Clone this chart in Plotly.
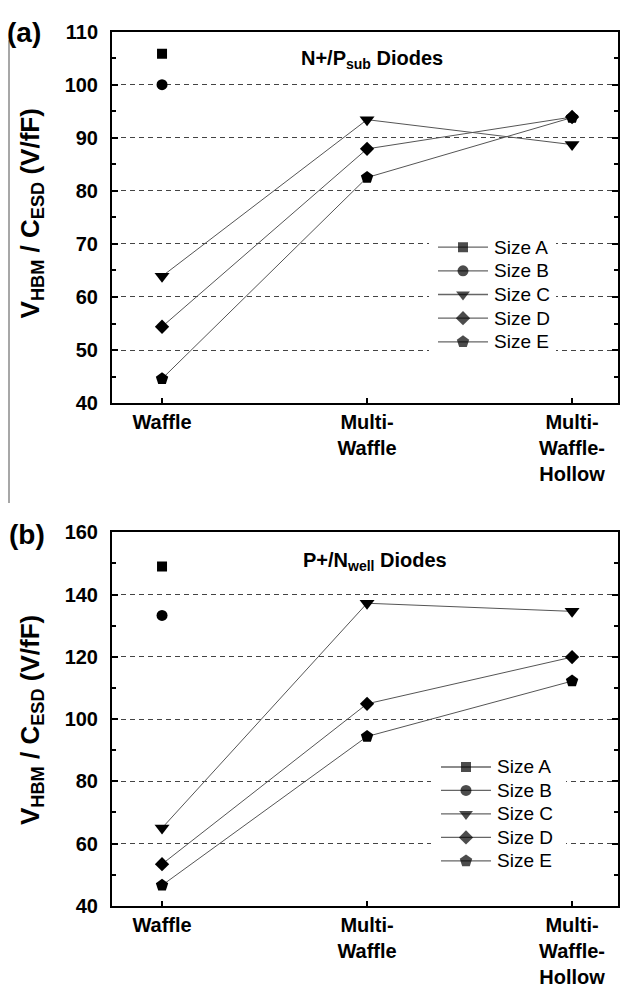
import plotly.graph_objects as go

# Categories (x positions are category indices)
categories = ["Waffle", "Multi-<br>Waffle", "Multi-<br>Waffle-<br>Hollow"]
x_pos = [0, 1, 2]
series_names = ["Size A", "Size B", "Size C", "Size D", "Size E"]

# (a) N+/Psub diodes, V_HBM / C_ESD (V/fF)
a_size_A = [105.8, None, None]
a_size_B = [100.0, None, None]
a_size_C = [63.9, 93.4, 88.7]
a_size_D = [54.4, 87.9, 93.9]
a_size_E = [44.6, 82.5, 93.8]

# (b) P+/Nwell diodes, V_HBM / C_ESD (V/fF)
b_size_A = [149.0, None, None]
b_size_B = [133.3, None, None]
b_size_C = [65.0, 137.2, 134.6]
b_size_D = [53.4, 104.9, 119.9]
b_size_E = [46.6, 94.4, 112.2]

y_ticks_a = [40, 50, 60, 70, 80, 90, 100, 110]
y_ticks_b = [40, 60, 80, 100, 120, 140, 160]

symbols = ["square", "circle", "triangle-down", "diamond", "pentagon"]
sizes = [10, 11, 13, 11, 13]
leg_sizes = [10, 11, 12, 11, 13]

W, H = 620, 1000
L, R = 112, 618
FONT = "Liberation Sans, Arial, Helvetica, sans-serif"


def xp(px):
    return (px - L) / (R - L)


def yp(py):
    return 1 - py / H


fig = go.Figure()

panels = [
    ("x", "y", [a_size_A, a_size_B, a_size_C, a_size_D, a_size_E]),
    ("x2", "y2", [b_size_A, b_size_B, b_size_C, b_size_D, b_size_E]),
]

for xa, ya, data in panels:
    for name, vals, sym, sz in zip(series_names, data, symbols, sizes):
        fig.add_trace(go.Scatter(
            x=x_pos, y=vals, mode="lines+markers", name=name,
            xaxis=xa, yaxis=ya, showlegend=False, connectgaps=False,
            line=dict(color="#555555", width=1),
            marker=dict(symbol=sym, size=sz, color="black", line=dict(width=0)),
        ))

# Hand-built legends on pixel-scaled overlay axes
legend_specs = [
    ("x3", "y3", 429, 556, 228, 352, 438, 488, 492, 241.5, 24.2),
    ("x4", "y4", 431, 566, 760, 882, 441, 491, 495, 773.0, 24.0),
]
annotations = []
for xa, ya, bx0, bx1, by0, by1, lx0, lx1, tx, y0, step in legend_specs:
    fig.add_trace(go.Scatter(
        x=[bx0, bx1, bx1, bx0, bx0], y=[by0, by0, by1, by1, by0],
        mode="lines", fill="toself", fillcolor="white",
        line=dict(width=0), xaxis=xa, yaxis=ya, showlegend=False, hoverinfo="skip",
    ))
    for i, (name, sym, sz) in enumerate(zip(series_names, symbols, leg_sizes)):
        yy = y0 + i * step
        fig.add_trace(go.Scatter(
            x=[lx0, (lx0 + lx1) / 2, lx1], y=[yy, yy, yy],
            mode="lines+markers", xaxis=xa, yaxis=ya, showlegend=False,
            line=dict(color="#666666", width=1.3),
            marker=dict(symbol=sym, size=[0, sz, 0], color="black", line=dict(width=0)),
        ))
        annotations.append(dict(
            x=tx, y=yy, xref=xa, yref=ya, text=name, showarrow=False,
            xanchor="left", yanchor="middle",
            font=dict(family=FONT, size=19, color="black"),
        ))

axis_common = dict(
    showline=True, linewidth=2, linecolor="black", zeroline=False,
    ticks="inside", tickwidth=2, tickcolor="black",
)
xaxis_cfg = dict(
    axis_common, domain=[0, 1], range=[-0.244, 2.224],
    tickmode="array", tickvals=x_pos, ticktext=categories, ticklen=5,
    mirror=True, showgrid=False,
    tickfont=dict(family=FONT, size=20, color="black", weight="bold"),
    ticklabelstandoff=0,
)
yaxis_cfg = dict(
    axis_common, mirror="ticks", ticklen=6,
    showgrid=True, gridcolor="#444444", gridwidth=1, griddash="5px,4px",
    tickfont=dict(family=FONT, size=20, color="black", weight="bold"),
    ticklabelstandoff=8,
)

fig.update_layout(
    width=W, height=H,
    margin=dict(l=L, r=W - R, t=0, b=0),
    paper_bgcolor="white", plot_bgcolor="white",
    showlegend=False,
    xaxis=dict(xaxis_cfg, anchor="y"),
    yaxis=dict(yaxis_cfg, anchor="x", domain=[yp(401), yp(21)], range=[40, 110],
               tickmode="array", tickvals=y_ticks_a,
               minor=dict(dtick=5, ticks="inside", ticklen=4, tickwidth=2,
                          tickcolor="black", showgrid=False)),
    xaxis2=dict(xaxis_cfg, anchor="y2"),
    yaxis2=dict(yaxis_cfg, anchor="x2", domain=[yp(915), yp(533)], range=[40, 160],
                tickmode="array", tickvals=y_ticks_b,
                minor=dict(dtick=10, ticks="inside", ticklen=4, tickwidth=2,
                           tickcolor="black", showgrid=False)),
    xaxis3=dict(overlaying="x", range=[L, R], visible=False),
    yaxis3=dict(overlaying="y", range=[401, 21], visible=False),
    xaxis4=dict(overlaying="x2", range=[L, R], visible=False),
    yaxis4=dict(overlaying="y2", range=[915, 533], visible=False),
)

ytitle = "<b>V<sub>HBM</sub> / C<sub>ESD</sub> (V/fF)</b>"
annotations += [
    dict(x=xp(31), y=yp(207), xref="paper", yref="paper", text=ytitle,
         textangle=-90, showarrow=False, xanchor="center", yanchor="middle",
         font=dict(family=FONT, size=26, color="black")),
    dict(x=xp(31), y=yp(725), xref="paper", yref="paper", text=ytitle,
         textangle=-90, showarrow=False, xanchor="center", yanchor="middle",
         font=dict(family=FONT, size=26, color="black")),
    dict(x=xp(299), y=yp(50), xref="paper", yref="paper",
         text="<b>N+/P<sub>sub</sub> Diodes</b>", showarrow=False,
         xanchor="left", yanchor="middle",
         font=dict(family=FONT, size=20, color="black")),
    dict(x=xp(301), y=yp(563), xref="paper", yref="paper",
         text="<b>P+/N<sub>well</sub> Diodes</b>", showarrow=False,
         xanchor="left", yanchor="middle",
         font=dict(family=FONT, size=20, color="black")),
    dict(x=xp(24), y=yp(22), xref="paper", yref="paper", text="(a)",
         showarrow=False, xanchor="center", yanchor="middle",
         font=dict(family=FONT, size=28, color="black", weight="bold")),
    dict(x=xp(27), y=yp(535), xref="paper", yref="paper", text="(b)",
         showarrow=False, xanchor="center", yanchor="middle",
         font=dict(family=FONT, size=28, color="black", weight="bold")),
]
fig.update_layout(annotations=annotations)

# Thin grey rule along the left edge of panel (a)
fig.add_shape(type="line", xref="paper", yref="paper",
              x0=xp(9), x1=xp(9), y0=yp(30), y1=yp(503),
              line=dict(color="#8a8a8a", width=1.5))

fig.write_html("out.html")
